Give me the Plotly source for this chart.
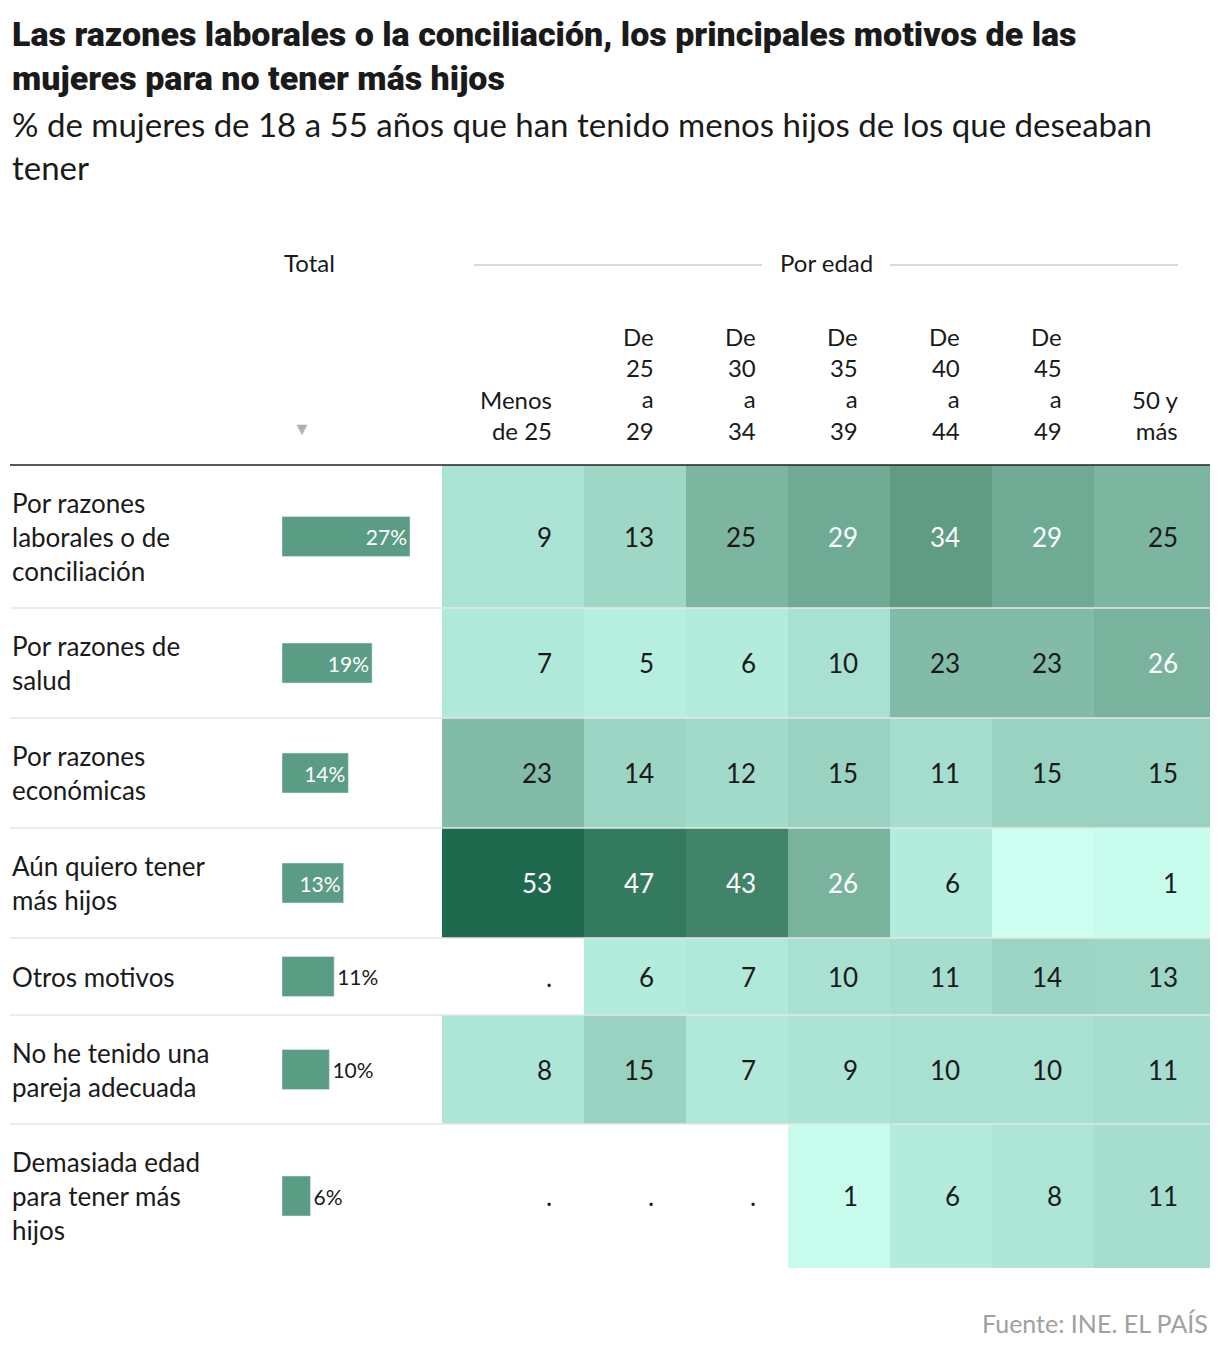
import plotly.graph_objects as go

# datos
motivos = ["Por razones<br>laborales o de<br>conciliación", "Por razones de<br>salud",
           "Por razones<br>económicas", "Aún quiero tener<br>más hijos", "Otros motivos",
           "No he tenido una<br>pareja adecuada", "Demasiada edad<br>para tener más<br>hijos"]
total = [27, 19, 14, 13, 11, 10, 6]
edades = ["Menos<br>de 25", "De<br>25<br>a<br>29", "De<br>30<br>a<br>34", "De<br>35<br>a<br>39",
          "De<br>40<br>a<br>44", "De<br>45<br>a<br>49", "50 y<br>más"]
valores = [
    [9, 13, 25, 29, 34, 29, 25],
    [7, 5, 6, 10, 23, 23, 26],
    [23, 14, 12, 15, 11, 15, 15],
    [53, 47, 43, 26, 6, 0, 1],
    [None, 6, 7, 10, 11, 14, 13],
    [8, 15, 7, 9, 10, 10, 11],
    [None, None, None, 1, 6, 8, 11],
]
etiquetas = [
    ["9", "13", "25", "29", "34", "29", "25"],
    ["7", "5", "6", "10", "23", "23", "26"],
    ["23", "14", "12", "15", "11", "15", "15"],
    ["53", "47", "43", "26", "6", "", "1"],
    [".", "6", "7", "10", "11", "14", "13"],
    ["8", "15", "7", "9", "10", "10", "11"],
    [".", ".", ".", "1", "6", "8", "11"],
]

# geometría (en píxeles de la página; la página tiene 8 px de margen)
x_bordes = [442, 584, 686, 788, 890, 992, 1094, 1210]
y_bordes = [465, 608, 718, 828, 938, 1015, 1124, 1268]
y_centros = [(a + b) / 2 for a, b in zip(y_bordes[:-1], y_bordes[1:])]

FONT = "Lato"
TXT = "#1a1a1a"

fig = go.Figure()
fig.add_trace(go.Heatmap(
    x=x_bordes, y=y_bordes, z=valores, zmin=0, zmax=53,
    colorscale=[[0, "#ccfff0"], [0.1, "#b5eedf"], [0.2, "#a6decf"], [0.45, "#80b9a5"],
                [0.65, "#5e9b82"], [1, "#1f6a4f"]],
    showscale=False, hoverinfo="skip",
))
fig.add_trace(go.Bar(
    x=total, y=y_centros, orientation="h", width=40, xaxis="x2", yaxis="y",
    marker_color="#5a9c84",
    text=[f"{t}%" for t in total],
    textposition=["inside" if t > 12 else "outside" for t in total],
    insidetextanchor="end", cliponaxis=False,
    textfont=dict(family=FONT, size=21, color=["white" if t > 12 else TXT for t in total]),
    hoverinfo="skip",
))

ann = []
for i, fila in enumerate(etiquetas):
    for j, t in enumerate(fila):
        v = valores[i][j]
        color = "white" if (v is not None and v >= 26) else TXT
        ann.append(dict(x=x_bordes[j + 1] - 30, y=y_centros[i], text=t, xanchor="right",
                        yanchor="middle", showarrow=False, font=dict(size=26, color=color)))
for i, m in enumerate(motivos):
    ann.append(dict(x=10, y=y_centros[i], text=m, xanchor="left", yanchor="middle",
                    align="left", showarrow=False, font=dict(size=26, color=TXT)))
for j, e in enumerate(edades):
    ann.append(dict(x=x_bordes[j + 1] - 30, y=447, text=e, xanchor="right", yanchor="bottom",
                    align="right", showarrow=False, font=dict(size=24, color=TXT)))
ann += [
    dict(x=282, y=262, text="Total", xanchor="left", yanchor="middle", showarrow=False,
         font=dict(size=24, color=TXT)),
    dict(x=826, y=262, text="Por edad", xanchor="center", yanchor="middle", showarrow=False,
         font=dict(size=24, color=TXT)),
    dict(x=302, y=428, text="▼", xanchor="center", yanchor="middle", showarrow=False,
         font=dict(size=18, color="#b0b0b0")),
    dict(x=10, y=12, text="Las razones laborales o la conciliación, los principales motivos de las<br>mujeres para no tener más hijos",
         xanchor="left", yanchor="top", align="left", showarrow=False,
         font=dict(family="Roboto", size=34, weight=900, color=TXT)),
    dict(x=10, y=102, text="% de mujeres de 18 a 55 años que han tenido menos hijos de los que deseaban<br>tener",
         xanchor="left", yanchor="top", align="left", showarrow=False,
         font=dict(size=33, color=TXT)),
    dict(x=1210, y=1323, text="Fuente: INE. EL PAÍS", xanchor="right", yanchor="middle",
         showarrow=False, font=dict(size=25, color="#a0a0a0")),
]

shapes = [dict(type="line", x0=10, x1=1210, y0=465, y1=465, line=dict(color="#222", width=1.5)),
          dict(type="line", x0=474, x1=762, y0=265, y1=265, line=dict(color="#ccc", width=1.5)),
          dict(type="line", x0=890, x1=1178, y0=265, y1=265, line=dict(color="#ccc", width=1.5))]
for yb in y_bordes[1:-1]:
    shapes.append(dict(type="line", x0=10, x1=1210, y0=yb, y1=yb, layer="above",
                       line=dict(color="#e6e6e6", width=1.5)))

fig.update_layout(
    width=1212, height=1344, margin=dict(l=0, r=0, t=0, b=0),
    paper_bgcolor="white", plot_bgcolor="white", showlegend=False,
    font=dict(family=FONT, color=TXT),
    xaxis=dict(range=[8, 1220], domain=[0, 1], visible=False, fixedrange=True),
    xaxis2=dict(range=[0, 160 / 4.74], domain=[(282 - 8) / 1212, (442 - 8) / 1212],
                anchor="y", visible=False),
    yaxis=dict(range=[1352, 8], domain=[0, 1], visible=False),
    annotations=ann, shapes=shapes,
)
fig.write_html("out.html")
